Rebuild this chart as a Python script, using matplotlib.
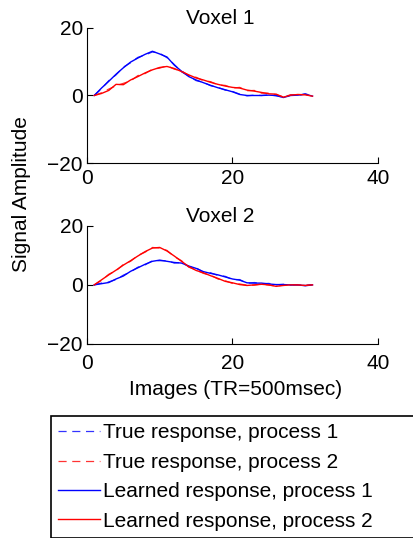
import numpy as np
import matplotlib
matplotlib.use("Agg")
import matplotlib.pyplot as plt

plt.rcParams['font.family'] = ['Liberation Sans', 'DejaVu Sans']
plt.rcParams['font.size'] = 15

images = np.arange(1, 32)

# voxel 1
learned_v1_p1 = [0, 2.2, 4.2, 6.3, 8.2, 9.9, 11.1, 12.2, 13.1, 12.3, 11.4, 9.0, 7.2, 5.6, 4.6,
                 3.8, 3.0, 2.3, 1.7, 1.1, 0.3, 0, 0, 0, 0.1, 0, -0.6, 0, 0.1, 0.4, -0.2]
true_v1_p1 = [0, 2.0, 4.4, 6.1, 8.4, 9.7, 11.3, 12.0, 12.9, 12.5, 11.2, 9.2, 7.0, 5.8, 4.4,
              3.9, 2.9, 2.4, 1.6, 1.2, 0.4, -0.1, 0.1, 0, 0.2, -0.1, -0.5, 0.1, 0, 0.5, -0.1]
learned_v1_p2 = [0, 0.6, 1.5, 3.3, 3.2, 4.6, 5.6, 6.7, 7.6, 8.3, 8.6, 8.0, 7.1, 6.1, 5.2,
                 4.6, 3.9, 3.3, 2.8, 2.4, 2.2, 1.6, 1.3, 0.9, 0.5, 0.4, -0.5, 0.1, 0.3, 0.2, -0.2]
true_v1_p2 = [0, 0.8, 1.9, 2.9, 3.6, 4.3, 5.9, 6.5, 7.8, 8.1, 8.8, 7.8, 7.3, 5.9, 5.4,
              4.4, 4.1, 3.1, 3.0, 2.2, 2.4, 1.4, 1.5, 0.7, 0.7, 0.2, -0.4, 0.2, 0.2, 0.3, -0.1]

# voxel 2
learned_v2_p1 = [0, 0.4, 0.8, 2.0, 3.0, 4.6, 5.8, 7.0, 8.0, 8.4, 8.0, 7.6, 7.4, 6.4, 5.6,
                 4.5, 3.9, 3.4, 2.7, 2.0, 1.6, 0.7, 0.6, 0.6, 0.3, 0.1, 0.1, 0, 0, -0.3, 0]
true_v2_p1 = [0, 0.6, 1.0, 1.8, 3.3, 4.4, 6.0, 6.8, 8.2, 8.2, 8.2, 7.4, 7.6, 6.2, 5.8,
              4.3, 4.1, 3.2, 2.9, 1.8, 1.8, 0.5, 0.8, 0.4, 0.5, 0, 0.2, -0.1, 0.1, -0.2, 0]
learned_v2_p2 = [0, 1.7, 3.4, 5.0, 6.7, 8.2, 9.8, 11.3, 12.5, 12.7, 11.5, 9.8, 8.0, 6.2, 4.9,
                 4.1, 3.1, 2.2, 1.2, 0.7, 0.1, -0.2, 0, 0.2, 0, -0.5, -0.2, 0, 0, -0.2, 0]
true_v2_p2 = [0, 1.5, 3.6, 4.8, 6.9, 8.0, 10.0, 11.1, 12.7, 12.5, 11.7, 9.6, 8.2, 6.0, 5.1,
              3.9, 3.3, 2.0, 1.4, 0.5, 0.3, -0.1, -0.1, 0.3, -0.1, -0.4, -0.1, 0.1, -0.1, -0.1, 0]

voxels = [
    ("Voxel 1", true_v1_p1, true_v1_p2, learned_v1_p1, learned_v1_p2),
    ("Voxel 2", true_v2_p1, true_v2_p2, learned_v2_p1, learned_v2_p2),
]

fig = plt.figure(figsize=(4.14, 5.38), dpi=100)
positions = [[0.210, 0.697, 0.703, 0.251], [0.210, 0.361, 0.703, 0.219]]
xpads = [4, 7.5]

handles = []
for pos, xpad, (title, t1, t2, l1, l2) in zip(positions, xpads, voxels):
    ax = fig.add_axes(pos)
    h1, = ax.plot(images, t1, '--', color='blue', lw=0.9, alpha=0.8, dashes=(6.5, 4.5))
    h2, = ax.plot(images, t2, '--', color='red', lw=0.9, alpha=0.8, dashes=(6.5, 4.5))
    h3, = ax.plot(images, l1, '-', color='blue', lw=1.0)
    h4, = ax.plot(images, l2, '-', color='red', lw=1.0)
    handles = [h1, h2, h3, h4]
    ax.set_xlim(0, 40)
    ax.set_ylim(-20, 20)
    ax.set_xticks([0, 20, 40])
    ax.set_yticks([-20, 0, 20])
    ax.spines['top'].set_visible(False)
    ax.spines['right'].set_visible(False)
    ax.tick_params(direction='in', length=4, width=0.8, pad=3)
    ax.tick_params(axis='x', pad=xpad)
    ax.set_title(title, x=0.457, pad=3, fontsize=15)

fig.text(0.053, 0.640, "Signal Amplitude", rotation=90, ha='center', va='center', fontsize=15)
fig.text(0.568, 0.276, "Images (TR=500msec)", ha='center', va='center', fontsize=15)

labels = ["True response, process 1", "True response, process 2",
          "Learned response, process 1", "Learned response, process 2"]
leg = fig.legend(handles, labels, loc='lower left', bbox_to_anchor=(0.123, 0.0, 0.877, 0.225),
                 mode='expand', fontsize=15, handlelength=2.0, handletextpad=0.15,
                 labelspacing=0.5, borderpad=0.35, borderaxespad=0, fancybox=False,
                 framealpha=1, edgecolor='black')
leg.get_frame().set_linewidth(1.2)

fig.savefig("out.png", dpi=100)
